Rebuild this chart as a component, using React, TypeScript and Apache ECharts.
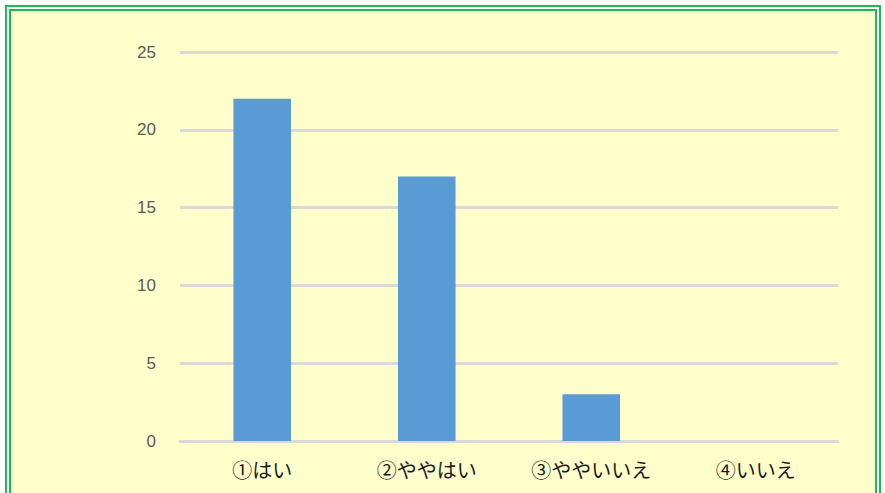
import React, { useEffect, useRef } from "react";
import * as echarts from "echarts";

const categories = ["①はい", "②ややはい", "③ややいいえ", "④いいえ"];
const values = [22, 17, 3, 0];
const yTicks = { min: 0, max: 25, interval: 5 };

export default function App() {
  const ref = useRef<HTMLDivElement>(null);
  useEffect(() => {
    document.body.style.margin = "0";
    const chart = echarts.init(ref.current!, null, { renderer: "svg" });
    chart.setOption({
      animation: false,
      backgroundColor: "#ffffff",
      graphic: [
        {
          type: "rect",
          shape: { x: 6, y: 6, width: 874, height: 500 },
          style: { fill: "#ffffff", stroke: "#1DB954", lineWidth: 2 },
          z: -10,
        },
        {
          type: "rect",
          shape: { x: 10, y: 10, width: 866, height: 500 },
          style: { fill: "#FFFFCC", stroke: "#1DB954", lineWidth: 2 },
          z: -9,
        },
      ],
      grid: { left: 180, right: 47, top: 52, bottom: 52, containLabel: false },
      xAxis: {
        type: "category",
        data: categories,
        axisLine: { lineStyle: { color: "#D9D9D9", width: 3 } },
        axisTick: { show: false },
        axisLabel: {
          color: "#1a1a1a",
          fontSize: 20,
          margin: 18,
          fontFamily: "Noto Sans CJK JP",
        },
      },
      yAxis: {
        type: "value",
        min: yTicks.min,
        max: yTicks.max,
        interval: yTicks.interval,
        axisLine: { show: false },
        axisTick: { show: false },
        splitLine: { lineStyle: { color: "#D9D9D9", width: 3 } },
        axisLabel: {
          color: "#595959",
          fontSize: 17,
          margin: 24,
          fontFamily: "Liberation Sans",
        },
      },
      series: [
        {
          type: "bar",
          data: values,
          barWidth: "35%",
          itemStyle: { color: "#5B9BD5" },
        },
      ],
    });
    return () => chart.dispose();
  }, []);
  return (
    <div
      ref={ref}
      style={{ position: "absolute", left: 0, top: 0, width: 885, height: 493 }}
    />
  );
}
